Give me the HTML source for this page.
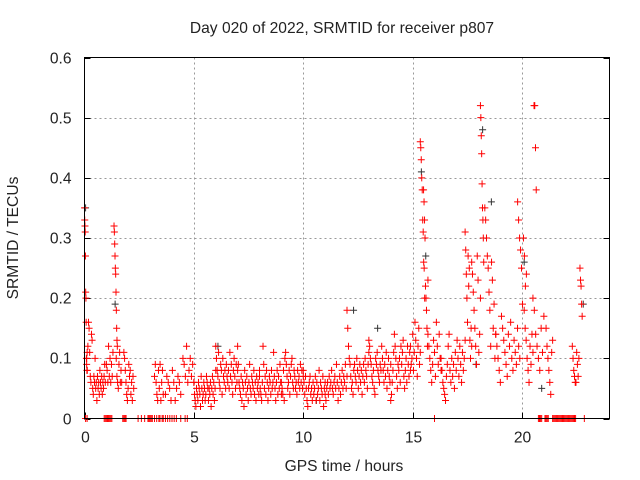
<!DOCTYPE html>
<html><head><meta charset="utf-8"><style>
body{margin:0;background:#fff}
svg{display:block;font-family:"Liberation Sans",sans-serif}
</style></head><body>
<svg id="chart" width="640" height="480" viewBox="0 0 640 480">
<text x="342" y="33" text-anchor="middle" font-size="15.6" fill="#222">Day 020 of 2022, SRMTID for receiver p807</text>
<text transform="translate(18,238) rotate(-90)" text-anchor="middle" font-size="15.6" fill="#222">SRMTID / TECUs</text>
<text x="344" y="471" text-anchor="middle" font-size="15.6" fill="#222">GPS time / hours</text>
<g id="grid"></g>
<g id="ticks"></g>
<g id="dark"></g>
<g id="red"></g>
<rect x="84.5" y="57.5" width="525" height="361" fill="none" stroke="#000" stroke-width="1"/>
</svg>
<script>
const xTicks=[0,5,10,15,20];
const yTicks=[0,0.1,0.2,0.3,0.4,0.5,0.6];
const yTickLabels=["0","0.1","0.2","0.3","0.4","0.5","0.6"];
// groups: [startHour, endHour, values]
const redGroups=[
[0.0,0.12,[0.35,0.33,0.32,0.31,0.27,0.21,0.2,0.16,0.1,0.09,0.08,0.11]],
[0.1,0.95,[0.1,0.08,0.12,0.16,0.15,0.11,0.07,0.06,0.14,0.13,0.05,0.04,0.07,0.06,0.1,0.05,0.06,0.03,0.07,0.05,0.06,0.04,0.08,0.06,0.05,0.07,0.04,0.06,0.05,0.07,0.09,0.06]],
[1.0,1.3,[0.09,0.08,0.06,0.12,0.07,0.1,0.06,0.09,0.07,0.11]],
[1.35,1.5,[0.32,0.31,0.29,0.27,0.25,0.24,0.21,0.18,0.15,0.13,0.12]],
[1.45,1.7,[0.1,0.07,0.06,0.05,0.09,0.11,0.06,0.08,0.06]],
[1.8,2.25,[0.11,0.1,0.08,0.06,0.04,0.03,0.05,0.09,0.07,0.08,0.04,0.06,0.03,0.07,0.05]],
[3.2,3.6,[0.07,0.09,0.06,0.04,0.03,0.08,0.05,0.09,0.03,0.06,0.08,0.04]],
[3.7,4.4,[0.04,0.07,0.06,0.05,0.03,0.08,0.06,0.03,0.05,0.07,0.06,0.04]],
[4.5,5.0,[0.1,0.09,0.07,0.12,0.06,0.08,0.1,0.07,0.09,0.06]],
[5.0,6.0,[0.06,0.04,0.03,0.02,0.05,0.04,0.03,0.06,0.05,0.04,0.02,0.07,0.05,0.03,0.04,0.06,0.05,0.03,0.04,0.07,0.06,0.05,0.03,0.05,0.04,0.06,0.02,0.05,0.07,0.04,0.06,0.03,0.05,0.08]],
[6.0,7.0,[0.12,0.1,0.08,0.07,0.11,0.06,0.05,0.09,0.08,0.04,0.1,0.07,0.06,0.08,0.05,0.09,0.07,0.06,0.08,0.05,0.11,0.07,0.09,0.06,0.04,0.08,0.1,0.07,0.05,0.09,0.06,0.08]],
[7.0,8.0,[0.12,0.09,0.06,0.05,0.04,0.07,0.03,0.06,0.05,0.02,0.08,0.06,0.04,0.07,0.05,0.03,0.06,0.09,0.05,0.04,0.07,0.06,0.05,0.08,0.04,0.06,0.03,0.07,0.05,0.06,0.04,0.08]],
[8.0,9.0,[0.07,0.05,0.04,0.03,0.06,0.12,0.09,0.05,0.07,0.04,0.08,0.06,0.03,0.05,0.07,0.06,0.04,0.08,0.05,0.06,0.11,0.07,0.05,0.03,0.06,0.08,0.04,0.07,0.05,0.09,0.06,0.04]],
[9.0,10.0,[0.06,0.05,0.04,0.08,0.03,0.1,0.11,0.09,0.07,0.05,0.06,0.08,0.04,0.07,0.09,0.1,0.06,0.05,0.08,0.07,0.05,0.06,0.04,0.08,0.06,0.07,0.05,0.09,0.06,0.08,0.05,0.07]],
[10.0,11.0,[0.08,0.06,0.04,0.07,0.05,0.03,0.02,0.05,0.06,0.07,0.04,0.05,0.03,0.06,0.04,0.05,0.07,0.03,0.06,0.04,0.05,0.08,0.03,0.06,0.05,0.04,0.07,0.02,0.05,0.06]],
[11.0,12.0,[0.04,0.03,0.05,0.06,0.04,0.07,0.05,0.06,0.08,0.05,0.04,0.06,0.07,0.05,0.09,0.06,0.03,0.05,0.07,0.04,0.06,0.08,0.05,0.07,0.06,0.09,0.05,0.07]],
[12.0,13.0,[0.18,0.15,0.12,0.1,0.09,0.07,0.05,0.06,0.04,0.08,0.09,0.07,0.06,0.1,0.08,0.05,0.07,0.09,0.06,0.08,0.04,0.07,0.09,0.06,0.1,0.08,0.07,0.05,0.09,0.11]],
[13.0,14.0,[0.13,0.12,0.1,0.09,0.07,0.06,0.08,0.05,0.04,0.1,0.09,0.11,0.08,0.07,0.06,0.09,0.08,0.12,0.1,0.08,0.06,0.09,0.07,0.11,0.05,0.08,0.1,0.07,0.06,0.09]],
[14.0,14.9,[0.03,0.04,0.06,0.08,0.11,0.14,0.12,0.1,0.07,0.05,0.09,0.08,0.1,0.06,0.12,0.09,0.11,0.13,0.07,0.05,0.08,0.1,0.06,0.12,0.09,0.07,0.11,0.08]],
[14.9,15.35,[0.12,0.09,0.1,0.14,0.08,0.11,0.16,0.13,0.1,0.07,0.12,0.15,0.09,0.11]],
[15.35,15.55,[0.46,0.45,0.43,0.4,0.38,0.33,0.31,0.26,0.25,0.2]],
[15.5,15.7,[0.38,0.36,0.33,0.3,0.22,0.2,0.18,0.15,0.12,0.23]],
[15.7,16.3,[0.14,0.12,0.1,0.08,0.06,0.09,0.13,0.11,0.07,0.16,0.12,0.09,0.14,0.1,0.08]],
[16.3,17.4,[0.1,0.08,0.06,0.05,0.04,0.03,0.07,0.09,0.12,0.14,0.08,0.06,0.1,0.07,0.09,0.05,0.11,0.08,0.13,0.1,0.07,0.12,0.09,0.06,0.11,0.08,0.1,0.13]],
[17.4,17.7,[0.31,0.28,0.24,0.2,0.16,0.27,0.22,0.25,0.13,0.1,0.15,0.12]],
[17.7,18.1,[0.26,0.24,0.21,0.18,0.15,0.12,0.09,0.27,0.23,0.11,0.14,0.2]],
[18.1,18.25,[0.52,0.5,0.47,0.44,0.39,0.35,0.33,0.3,0.26]],
[18.3,18.8,[0.35,0.33,0.3,0.27,0.25,0.21,0.18,0.12,0.26,0.23,0.15,0.19,0.1,0.14]],
[18.8,19.9,[0.14,0.12,0.1,0.08,0.06,0.17,0.15,0.13,0.11,0.09,0.07,0.14,0.12,0.16,0.1,0.08,0.13,0.11,0.09,0.15,0.12,0.1]],
[19.8,20.2,[0.36,0.33,0.3,0.28,0.25,0.19,0.3,0.27,0.22,0.24]],
[20.1,20.5,[0.18,0.15,0.13,0.1,0.08,0.06,0.12,0.09,0.14,0.11]],
[20.55,20.65,[0.52,0.52,0.45,0.38]],
[20.5,21.0,[0.2,0.18,0.14,0.12,0.1,0.08,0.15,0.11,0.17]],
[21.1,21.4,[0.15,0.12,0.1,0.08,0.06,0.04,0.11,0.13]],
[22.3,22.6,[0.12,0.1,0.08,0.07,0.06,0.06,0.11,0.09,0.07,0.1]],
[22.65,22.75,[0.25,0.23,0.22,0.19,0.17]]
];
const zeroTimes=[0.05,0.12,0.9,0.95,1.0,1.05,1.1,1.15,1.2,1.25,1.75,1.8,1.85,1.9,2.45,2.6,2.75,2.9,2.95,3.0,3.05,3.1,3.2,3.3,3.4,3.45,3.55,3.6,3.7,3.8,3.9,4.0,4.1,4.2,4.4,4.6,4.7,16.0,20.75,20.8,20.85,20.9,21.05,21.1,21.15,21.2,21.4,21.45,21.5,21.55,21.6,21.65,21.7,21.75,21.8,21.85,21.9,21.95,22.0,22.05,22.1,22.15,22.2,22.25,22.3,22.35,22.4,22.45,22.85];
const darkTimes=[0.05,1.4,6.1,12.3,13.4,15.4,15.6,18.2,18.6,20.1,20.9,22.8,10.6,17.9];
const darkValues=[0.35,0.19,0.12,0.18,0.15,0.41,0.27,0.48,0.36,0.26,0.05,0.19,0.03,0.09];

const X0=84.5,X1=609.5,XMAX=24,Y0=418.5,Y1=57.5,YMAX=0.6;
const sx=t=>X0+(X1-X0)*t/XMAX;
const sy=v=>Y0-(Y0-Y1)*v/YMAX;
const NS="http://www.w3.org/2000/svg";
const grid=document.getElementById('grid'),ticks=document.getElementById('ticks');
function mk(tag,attrs,parent){const e=document.createElementNS(NS,tag);for(const k in attrs)e.setAttribute(k,attrs[k]);parent.appendChild(e);return e;}
xTicks.forEach(t=>{
  const x=Math.round(sx(t))+0.5;
  if(t>0){const g=mk('line',{x1:x,x2:x,y1:Y1,y2:Y0,stroke:'#999','stroke-dasharray':'2,3'},grid);
  
  }
  const tk=mk('line',{x1:x,x2:x,y1:Y0,y2:Y0-6,stroke:'#000'},ticks);
  
  
  const tx=mk('text',{x:x,y:Y0+24,'text-anchor':'middle','font-size':15.6,fill:'#222'},ticks);
  tx.textContent=String(t);
  
  
});
yTicks.forEach((v,i)=>{
  const y=Math.round(sy(v))+0.5;
  if(v>0&&v<YMAX){const g=mk('line',{x1:X0,x2:X1,y1:y,y2:y,stroke:'#999','stroke-dasharray':'2,3'},grid);
  
  }
  const tk=mk('line',{x1:X0,x2:X0+6,y1:y,y2:y,stroke:'#000'},ticks);
  
  
  const tk2=mk('line',{x1:X1-6,x2:X1,y1:y,y2:y,stroke:'#000'},ticks);
  
  
  const tx=mk('text',{x:X0-13,y:y+5,'text-anchor':'end','font-size':15.6,fill:'#222'},ticks);
  tx.textContent=yTickLabels[i];
  
  
});
function plus(t,v,color,parent,name){
  const x=sx(t),y=sy(v);
  const p=mk('path',{d:`M${x-3.5} ${y}H${x+3.5}M${x} ${y-3.5}V${y+3.5}`,stroke:color,'stroke-width':1,fill:'none'},parent);
  
  
}
const dark=document.getElementById('dark'),red=document.getElementById('red');
darkTimes.forEach((t,i)=>plus(t,darkValues[i],'#333',dark,'dark-point'));
redGroups.forEach(g=>{
  const [a,b,vals]=g;const n=vals.length;
  vals.forEach((v,i)=>plus(a+(b-a)*(n>1?i/(n-1):0),v,'#f00',red,'red-point'));
});
zeroTimes.forEach(t=>plus(t,0,'#f00',red,'zero-point'));
</script>
</body></html>
